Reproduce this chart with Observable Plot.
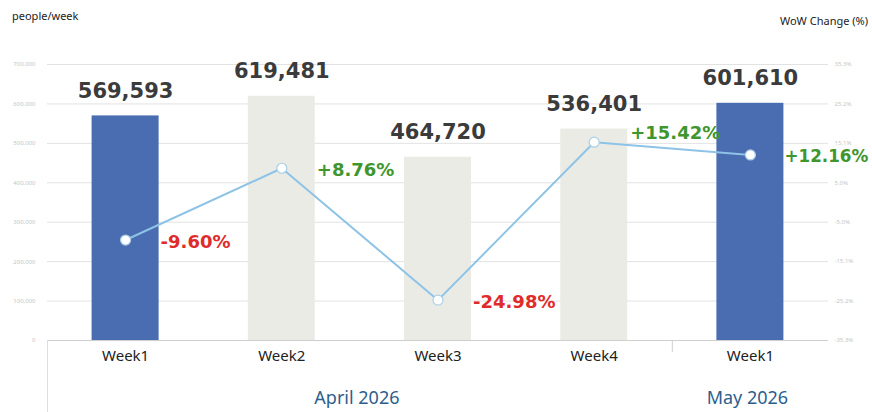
<!DOCTYPE html>
<html>
<head>
<meta charset="utf-8">
<script src="https://cdn.jsdelivr.net/npm/d3@7"></script>
<script src="https://cdn.jsdelivr.net/npm/@observablehq/plot@0.6"></script>
<style>
  html, body { margin: 0; padding: 0; background: #fff; }
  #wrap { position: relative; width: 872px; height: 412px; overflow: hidden; }
  .ttl { position: absolute; font-family: "Noto Sans", sans-serif; font-size: 11px; color: #222; }
</style>
</head>
<body>
<div id="wrap">
  <div class="ttl" style="left:12px; top:8px;">people/week</div>
  <div class="ttl" style="right:4px; top:13px;">WoW Change (%)</div>
</div>
<script>
// ---- data ----
const months = ["April 2026", "April 2026", "April 2026", "April 2026", "May 2026"];
const weeks = ["Week1", "Week2", "Week3", "Week4", "Week1"];
const visitors = [569593, 619481, 464720, 536401, 601610];
const wowChange = [-9.60, 8.76, -24.98, 15.42, 12.16];
const leftTicks = [0, 100000, 200000, 300000, 400000, 500000, 600000, 700000];
const rightTicks = [-35.3, -25.2, -15.1, -5.0, 5.0, 15.1, 25.2, 35.3];

// ---- build ----
const yMax = 700000;
const pMin = -35.3, pMax = 35.3;
const pctToY = p => (p - pMin) / (pMax - pMin) * yMax;
const yToPct = v => v / yMax * (pMax - pMin) + pMin;

const data = weeks.map((w, i) => ({
  i, week: w, month: months[i], value: visitors[i], pct: wowChange[i], py: pctToY(wowChange[i])
}));
const monthGroups = d3.groups(data, d => d.month).map(([name, rows]) => ({
  name, center: d3.mean(rows, r => r.i), first: d3.min(rows, r => r.i)
}));
const separators = monthGroups.map(g => g.first - 0.5);

const fmtPct = d => (d > 0 ? "+" : "") + d.toFixed(2) + "%";
const blue = "#4a6cb0", grey = "#ebebe6";
const pctColor = d => d.pct < 0 ? "#e02b2b" : "#3f962d";
const last = weeks.length - 1;

const chart = Plot.plot({
  width: 872,
  height: 412,
  marginLeft: 47,
  marginRight: 44,
  marginTop: 64,
  marginBottom: 72,
  style: { fontFamily: "Noto Sans, sans-serif", background: "transparent" },
  x: { type: "linear", domain: [-0.5, weeks.length - 0.5] },
  y: { domain: [0, yMax] },
  marks: [
    Plot.gridY(leftTicks.slice(1), { stroke: "#e2e2e2", strokeOpacity: 1 }),
    Plot.axisY(leftTicks, { anchor: "left", tickSize: 0, tickPadding: 12, fontSize: 6, color: "#c6c6c6", tickFormat: d3.format(","), label: null }),
    Plot.axisY(rightTicks.map(pctToY), { anchor: "right", tickSize: 0, tickPadding: 6, fontSize: 6, color: "#c6c6c6", tickFormat: v => yToPct(v).toFixed(1) + "%", label: null }),
    Plot.rectY(data, {
      x1: d => d.i - 0.5, x2: d => d.i + 0.5, y: "value",
      insetLeft: 44.6, insetRight: 44.6,
      fill: d => d.week === "Week1" ? blue : grey
    }),
    Plot.ruleY([0], { stroke: "#cfcfcf", strokeWidth: 1.2 }),
    Plot.axisX(separators.slice(0, 1), { tickSize: 72, tickFormat: () => "", stroke: "#dedede", label: null }),
    Plot.axisX(separators.slice(1), { tickSize: 12, tickFormat: () => "", stroke: "#cfcfcf", label: null }),
    Plot.axisX(data.map(d => d.i), { tickSize: 0, tickPadding: 10, fontSize: 15, color: "#222", tickFormat: i => weeks[i], label: null }),
    Plot.text(monthGroups, { x: "center", text: "name", frameAnchor: "bottom", dy: 63, dx: -3, fontSize: 18, fill: "#2d5e8e" }),
    Plot.text(data, { x: "i", y: "value", text: d => d3.format(",")(d.value), dy: -25, fontSize: 21, fontWeight: "bold", fontFamily: "DejaVu Sans", fill: "#3b3b3b" }),
    Plot.line(data, { x: "i", y: "py", stroke: "#8ec3e6", strokeWidth: 2 }),
    Plot.dot(data, { x: "i", y: "py", r: 5, fill: "#fff", stroke: "#a9cfe8", strokeWidth: 1.2 }),
    Plot.text(data.filter(d => d.i !== 3 && d.i !== last), { x: "i", y: "py", text: d => fmtPct(d.pct), textAnchor: "start", dx: 35, dy: 2, fontSize: 18, fontWeight: "bold", fontFamily: "DejaVu Sans", fill: pctColor }),
    Plot.text(data.filter(d => d.i === 3), { x: "i", y: "py", text: d => fmtPct(d.pct), textAnchor: "start", dx: 36, dy: -9, fontSize: 18, fontWeight: "bold", fontFamily: "DejaVu Sans", fill: pctColor }),
    Plot.text(data.filter(d => d.i === last), { x: "i", y: "py", text: d => fmtPct(d.pct), textAnchor: "start", dx: 34, dy: 2, fontSize: 16.8, fontWeight: "bold", fontFamily: "DejaVu Sans", fill: pctColor })
  ]
});
chart.style.position = "absolute";
chart.style.left = "0";
chart.style.top = "0";
document.getElementById("wrap").prepend(chart);
</script>
</body>
</html>
